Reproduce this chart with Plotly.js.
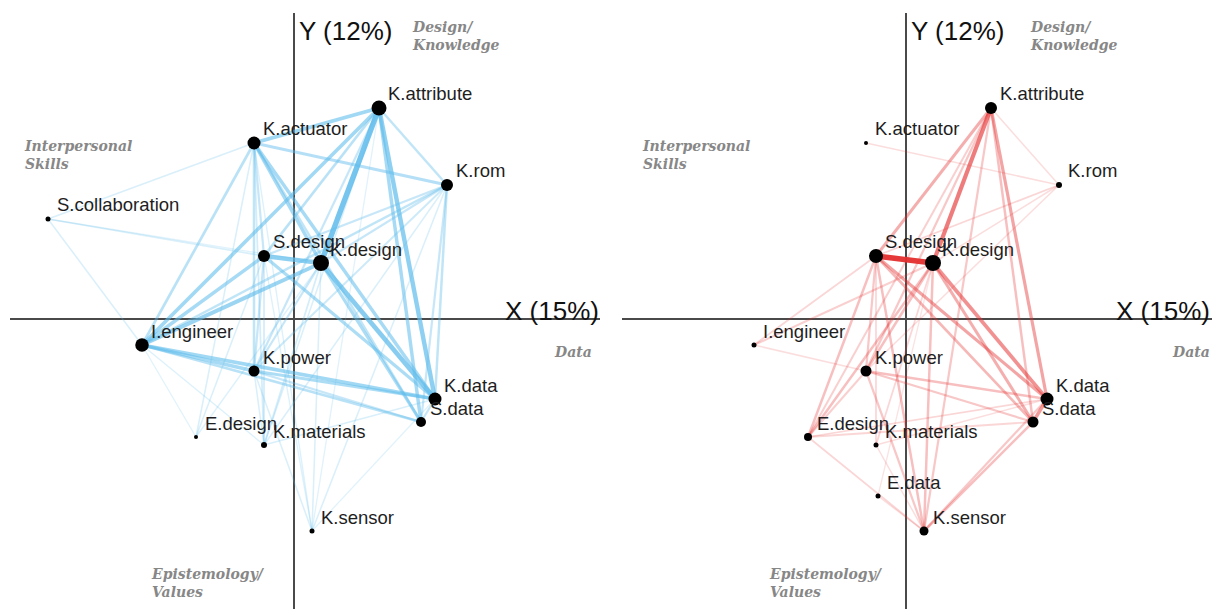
<!DOCTYPE html>
<html>
<head>
<meta charset="utf-8">
<script src="https://cdn.plot.ly/plotly-3.0.1.min.js"></script>
<style>html,body{margin:0;padding:0;background:#fff;}#chart{width:1212px;height:609px;}</style>
</head>
<body>
<div id="chart"></div>
<script>
// ---- data ----
const nodeNames = ["K.attribute","K.actuator","K.rom","S.collaboration","S.design","K.design","I.engineer","K.power","E.design","K.materials","E.data","K.data","S.data","K.sensor"];
const nodeX = [0.85, -0.40, 1.53, -2.46, -0.30, 0.27, -1.52, -0.40, -0.98, -0.30, -0.28, 1.41, 1.27, 0.18];
const nodeY = [2.11, 1.76, 1.34, 1.00, 0.63, 0.56, -0.26, -0.52, -1.18, -1.26, -1.77, -0.80, -1.03, -2.12];
// node weights (marker diameter) for each network; 0 = not present
const leftNodeSize  = [15, 13, 12, 5, 12, 16, 13.5, 11, 4, 6, 0, 13, 10, 5];
const rightNodeSize = [12, 4, 6, 0, 14, 16, 5, 11, 8, 5, 5, 13, 11, 9];

const blueEdges = [
  ["K.attribute","K.design",0.95],["K.design","K.data",0.8],["K.attribute","K.data",0.75],
  ["S.design","K.design",0.75],["I.engineer","K.design",0.65],["K.attribute","K.actuator",0.6],
  ["K.attribute","I.engineer",0.6],["I.engineer","K.data",0.6],["I.engineer","S.design",0.55],
  ["I.engineer","K.power",0.55],["K.actuator","K.design",0.55],["K.actuator","K.data",0.55],
  ["K.attribute","S.data",0.55],["K.power","K.data",0.5],["S.design","K.data",0.5],
  ["K.design","S.data",0.5],["K.actuator","K.rom",0.45],["K.actuator","I.engineer",0.4],
  ["I.engineer","S.data",0.4],["K.attribute","S.design",0.4],["K.attribute","K.rom",0.35],
  ["K.actuator","K.power",0.35],["K.actuator","S.data",0.35],["K.rom","I.engineer",0.35],
  ["K.rom","K.data",0.35],["K.attribute","K.power",0.3],["K.power","S.data",0.3],
  ["K.rom","K.design",0.3],["K.rom","S.design",0.3],["K.rom","S.data",0.3],
  ["K.data","S.data",0.3],["K.power","K.design",0.3],["K.power","S.design",0.3],
  ["K.actuator","S.design",0.3],["K.rom","K.power",0.25],["K.actuator","K.materials",0.2],
  ["K.materials","S.design",0.2],["K.materials","K.design",0.2],["K.actuator","S.collaboration",0.15],
  ["S.collaboration","I.engineer",0.15],["S.collaboration","S.design",0.15],["K.sensor","K.power",0.15],
  ["K.sensor","K.design",0.15],["K.rom","K.materials",0.15],["K.rom","K.sensor",0.15],
  ["E.design","K.actuator",0.15],["E.design","S.design",0.15],["K.materials","K.power",0.15],
  ["K.materials","K.data",0.15],["K.materials","K.attribute",0.15],["S.collaboration","K.design",0.1],
  ["K.sensor","S.design",0.12],["K.sensor","K.actuator",0.12],["K.sensor","K.attribute",0.1],
  ["K.sensor","K.data",0.1],["E.design","K.design",0.12],["E.design","I.engineer",0.1],
  ["K.materials","I.engineer",0.12]
];
const redEdges = [
  ["S.design","K.design",1.0],["K.attribute","K.design",0.7],["K.design","K.data",0.6],
  ["K.data","S.data",0.55],["K.attribute","K.data",0.5],["S.design","K.data",0.5],
  ["K.attribute","S.design",0.45],["K.design","S.data",0.45],["S.design","S.data",0.4],
  ["K.attribute","S.data",0.35],["S.design","K.sensor",0.35],["K.design","K.sensor",0.35],
  ["S.design","E.design",0.35],["K.design","E.design",0.35],["K.design","K.power",0.35],
  ["K.power","K.data",0.35],["K.sensor","S.data",0.35],["S.design","K.power",0.3],
  ["K.attribute","K.power",0.3],["K.attribute","K.sensor",0.3],["K.power","S.data",0.3],
  ["K.power","K.sensor",0.3],["K.sensor","K.data",0.3],["K.attribute","E.design",0.25],
  ["K.power","E.design",0.25],["I.engineer","K.design",0.25],["I.engineer","S.design",0.2],
  ["K.rom","S.design",0.2],["S.design","K.materials",0.2],["K.design","K.materials",0.2],
  ["E.design","K.data",0.2],["E.design","S.data",0.2],["E.design","K.sensor",0.2],
  ["K.attribute","K.rom",0.15],["K.actuator","K.rom",0.15],["K.rom","K.design",0.15],
  ["K.rom","K.power",0.15],["I.engineer","K.power",0.15],["K.materials","K.data",0.15],
  ["K.materials","K.sensor",0.15],["E.data","K.sensor",0.15],["E.data","K.design",0.1]
];
const axisLabels = ["X (15%)", "Y (12%)"];
const quadrantLabels = ["Interpersonal<br>Skills", "Design/<br>Knowledge", "Data", "Epistemology/<br>Values"];

// ---- build ----
const idx = {}; nodeNames.forEach((n,i)=>idx[n]=i);
const traces = [];
function addEdges(edges, xa, ya, rgb, alphaBase, alphaScale, gamma){
  const sorted = edges.slice().sort((a,b)=>a[2]-b[2]);
  sorted.forEach(e=>{
    const i=idx[e[0]], j=idx[e[1]], w=e[2];
    const a = Math.min(1, alphaBase + alphaScale*Math.pow(w, gamma));
    traces.push({type:'scatter', mode:'lines', x:[nodeX[i],nodeX[j]], y:[nodeY[i],nodeY[j]],
      xaxis:xa, yaxis:ya, hoverinfo:'skip', showlegend:false,
      line:{color:`rgba(${rgb},${a.toFixed(3)})`, width:0.8+4.8*w}});
  });
}
addEdges(blueEdges,'x','y','95,188,235',0.12,0.78,1.0);
addEdges(redEdges,'x2','y2','228,48,48',0.1,0.86,1.35);

function addNodes(sizes, xa, ya){
  const xs=[],ys=[],ss=[];
  sizes.forEach((s,i)=>{ if(s>0){xs.push(nodeX[i]);ys.push(nodeY[i]);ss.push(s);} });
  traces.push({type:'scatter', mode:'markers', x:xs, y:ys, xaxis:xa, yaxis:ya, hoverinfo:'skip',
    showlegend:false, marker:{color:'#000', size:ss, opacity:1, line:{width:0}}});
}
addNodes(leftNodeSize,'x','y');
addNodes(rightNodeSize,'x2','y2');

const annotations = [];
function addLabels(sizes, xr, yr){
  sizes.forEach((s,i)=>{ if(s>0){
    annotations.push({x:nodeX[i], y:nodeY[i], xref:xr, yref:yr, text:nodeNames[i], showarrow:false,
      xanchor:'left', yanchor:'middle', xshift:7, yshift:14,
      font:{family:'Liberation Sans, Arial, sans-serif', size:18.5, color:'#1e1e1e'}});
  }});
}
addLabels(leftNodeSize,'x','y');
addLabels(rightNodeSize,'x2','y2');

const W=1212, H=609;
const px=v=>v/W, py=v=>1-v/H;
const qFont={family:'DejaVu Serif, serif', size:14, color:'#878787', style:'italic', weight:'bold'};
const axFont={family:'Liberation Sans, Arial, sans-serif', size:26, color:'#111'};
[[0,0],[612,6]].forEach(([off,q])=>{
  annotations.push({xref:'paper',yref:'paper',x:px(297+off),y:py(31),xanchor:'left',yanchor:'middle',text:axisLabels[1],showarrow:false,font:axFont});
  annotations.push({xref:'paper',yref:'paper',x:px(Math.min(601+off,1212)),y:py(311),xanchor:'right',yanchor:'middle',text:axisLabels[0],showarrow:false,font:axFont});
  annotations.push({xref:'paper',yref:'paper',x:px(22+off+q),y:py(154.5),xanchor:'left',yanchor:'middle',align:'left',text:quadrantLabels[0],showarrow:false,font:qFont});
  annotations.push({xref:'paper',yref:'paper',x:px(410+off+q),y:py(36),xanchor:'left',yanchor:'middle',align:'left',text:quadrantLabels[1],showarrow:false,font:qFont});
  annotations.push({xref:'paper',yref:'paper',x:px(Math.min(594+off+q,1212)),y:py(352),xanchor:'right',yanchor:'middle',align:'right',text:quadrantLabels[2],showarrow:false,font:qFont});
  annotations.push({xref:'paper',yref:'paper',x:px(149+off+q),y:py(583),xanchor:'left',yanchor:'middle',align:'left',text:quadrantLabels[3],showarrow:false,font:qFont});
});

const axBase = {showgrid:false, showticklabels:false, ticks:'', showline:false, zeroline:true,
  zerolinecolor:'#4a4a4a', zerolinewidth:1.6, fixedrange:true};
const layout = {
  width:W, height:H, margin:{l:0,r:0,t:0,b:0}, paper_bgcolor:'#fff', plot_bgcolor:'rgba(0,0,0,0)',
  showlegend:false, hovermode:false,
  xaxis: Object.assign({}, axBase, {domain:[10/W, 600/W], range:[-2.84, 3.06]}),
  yaxis: Object.assign({}, axBase, {domain:[0, 596/H], range:[-2.90, 3.06], anchor:'x'}),
  xaxis2: Object.assign({}, axBase, {domain:[622/W, 1], range:[-2.84, 3.06], anchor:'y2'}),
  yaxis2: Object.assign({}, axBase, {domain:[0, 596/H], range:[-2.90, 3.06], anchor:'x2'}),
  annotations: annotations
};
Plotly.newPlot('chart', traces, layout, {displayModeBar:false, staticPlot:true});
</script>
</body>
</html>
